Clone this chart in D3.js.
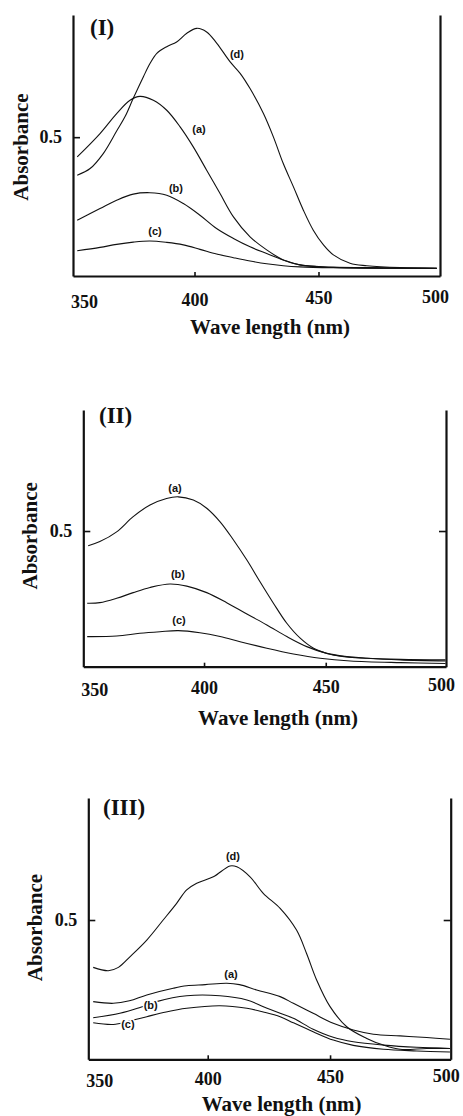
<!DOCTYPE html>
<html><head><meta charset="utf-8">
<script src="https://cdn.jsdelivr.net/npm/d3@7"></script>
<style>body{margin:0;background:#fff}svg{display:block}</style>
</head><body>
<svg id="c" width="463" height="1116"></svg>
<script>
// ---- data: [wavelength nm, absorbance] ----
const xTicks = [350, 400, 450, 500];
const yTicks = [0.5];

const I_a = [[352.7,0.429],[361.9,0.513],[368.6,0.585],[374,0.633],[378,0.647],[383.4,0.633],[388.8,0.597],[394.2,0.537],[399.5,0.465],[404.9,0.381],[410.3,0.297],[415.7,0.213],[422.4,0.141],[429.1,0.094],[435.8,0.058],[442.5,0.040],[449.3,0.034],[469.5,0.030],[497.7,0.028]];
const I_b = [[352.7,0.201],[361.9,0.243],[368.6,0.273],[375.3,0.295],[382,0.300],[388.8,0.291],[395.5,0.261],[402.2,0.219],[408.9,0.171],[415.7,0.135],[422.4,0.105],[429.1,0.081],[435.8,0.058],[442.5,0.040],[456,0.031],[497.7,0.028]];
const I_c = [[352.7,0.091],[361.9,0.103],[368.6,0.114],[375.3,0.122],[382,0.126],[388.8,0.121],[395.5,0.112],[402.2,0.096],[408.9,0.079],[415.7,0.066],[422.4,0.054],[429.1,0.044],[435.8,0.037],[442.5,0.033],[456,0.030],[497.7,0.027]];
const I_d = [[352.7,0.363],[357.9,0.387],[363.2,0.441],[368.6,0.522],[372,0.574],[375.3,0.640],[379.4,0.718],[382.1,0.766],[384.8,0.802],[388.8,0.826],[392.8,0.843],[396.9,0.874],[400.9,0.892],[404.9,0.879],[409,0.838],[414.3,0.772],[418.4,0.730],[422.4,0.675],[427.8,0.585],[431.8,0.501],[435.8,0.405],[439.9,0.321],[443.9,0.237],[447.9,0.165],[452,0.112],[456,0.076],[462.7,0.046],[469.5,0.037],[482.9,0.030],[497.7,0.028]];

const II_a = [[352.4,0.446],[357.2,0.461],[364.1,0.497],[370.9,0.553],[377.8,0.596],[384.6,0.620],[389.4,0.626],[395.6,0.614],[401.1,0.584],[406.6,0.534],[412.1,0.467],[417.6,0.393],[423,0.313],[428.5,0.234],[434,0.160],[439.5,0.105],[445,0.068],[450.5,0.049],[456,0.039],[467,0.031],[480.7,0.025],[499.2,0.021]];
const II_b = [[352,0.234],[357.2,0.236],[364.1,0.252],[370.9,0.273],[377.8,0.292],[386,0.305],[392.9,0.297],[401.1,0.273],[409.3,0.236],[417.6,0.194],[425.8,0.154],[434,0.111],[442.2,0.074],[450.5,0.049],[458.7,0.037],[467,0.031],[480.7,0.027],[499.2,0.025]];
const II_c = [[352,0.111],[364.1,0.113],[373.6,0.123],[381.9,0.129],[389.4,0.133],[398.3,0.125],[406.6,0.111],[414.8,0.092],[425.8,0.068],[436.7,0.047],[447.7,0.031],[460.1,0.021],[480.7,0.015],[499.2,0.012]];

const III_a = [[353.2,0.207],[361.4,0.201],[368,0.210],[375.1,0.231],[385.9,0.255],[391.4,0.264],[399,0.268],[407.8,0.273],[413,0.268],[420,0.249],[429.6,0.225],[435,0.201],[443.1,0.165],[451.3,0.129],[459.5,0.105],[467.7,0.090],[478.6,0.084],[489.5,0.078],[499,0.072]];
const III_b = [[353.2,0.149],[364.1,0.165],[372,0.185],[379.1,0.207],[391.4,0.228],[405,0.228],[416,0.213],[423,0.188],[429.6,0.165],[435,0.147],[443.1,0.108],[451.3,0.079],[459.5,0.063],[471.8,0.051],[485.4,0.043],[499,0.039]];
const III_c = [[353.2,0.131],[361.4,0.125],[368,0.137],[375.1,0.153],[383,0.170],[391.4,0.183],[405,0.192],[416,0.183],[422.7,0.170],[429.6,0.153],[435,0.131],[443.1,0.099],[451.3,0.069],[459.5,0.050],[471.8,0.036],[485.4,0.030],[499,0.026]];
const III_d = [[353.2,0.330],[359.4,0.318],[363.5,0.330],[368.2,0.368],[375.1,0.428],[381.8,0.500],[387.3,0.560],[391.4,0.608],[395.5,0.632],[402.3,0.655],[409.1,0.694],[411.9,0.691],[417.3,0.655],[422.7,0.596],[429.6,0.542],[436.3,0.464],[440.4,0.380],[444.5,0.285],[450,0.189],[456.8,0.117],[465,0.075],[471.8,0.051],[478.6,0.036],[489.5,0.039],[499,0.039]];

// curve label anchors [name, wavelength, absorbance]
const I_labels = [["d",417.1,0.80],["a",401.8,0.529],["b",392.5,0.317],["c",384.1,0.162]];
const II_labels = [["a",388.1,0.660],["b",389.3,0.342],["c",389.7,0.172]];
const III_labels = [["d",410.3,0.730],["a",409.5,0.306],["b",376.7,0.195],["c",367.4,0.127]];

const panelTitles = ["(I)", "(II)", "(III)"];
const yTitle = "Absorbance";
const xTitle = "Wave length (nm)";

// ---- layout ----
const panels = [
  {title:panelTitles[0], series:[I_a,I_b,I_c,I_d], labels:I_labels, halo:[],
   left:73, right:440, top:15, bottom:276, x0:351, x1:499, yMax:0.94, rightTick:false,
   titleX:90, titleY:34.5, absX:28, absY:147, tickY:307.7, tilt:1.7, xtX:270, xtY:334},
  {title:panelTitles[1], series:[II_a,II_b,II_c], labels:II_labels, halo:[],
   left:83.3, right:446, top:410, bottom:666.7, x0:350.4, x1:499.4, yMax:0.946, rightTick:true,
   titleX:99, titleY:423, absX:36.7, absY:535.8, tickY:696, tilt:1.7, xtX:278, xtY:725},
  {title:panelTitles[2], series:[III_a,III_b,III_c,III_d], labels:III_labels, halo:["b","c"],
   left:88.3, right:450.7, top:798, bottom:1059.3, x0:351.2, x1:499.3, yMax:0.938, rightTick:true,
   titleX:103, titleY:814.5, absX:41.7, absY:927.5, tickY:1087, tilt:1.8, xtX:281.7, xtY:1111}
];

const serif = "'Liberation Serif','Times New Roman',serif";
const sans = "'Liberation Sans',Arial,sans-serif";
const ink = "#111";
const svg = d3.select("#c");

panels.forEach(p => {
  const g = svg.append("g");
  const x = d3.scaleLinear().domain([p.x0, p.x1]).range([p.left, p.right]);
  const y = d3.scaleLinear().domain([0, p.yMax]).range([p.bottom, p.top]);

  // curves
  const line = d3.line().x(d => x(d[0])).y(d => y(d[1])).curve(d3.curveCatmullRom.alpha(0.5));
  g.selectAll("path.curve").data(p.series).join("path")
    .attr("class","curve").attr("d", line)
    .attr("fill","none").attr("stroke", ink).attr("stroke-width", 1.1);

  // left axis
  const la = g.append("g").attr("transform", `translate(${p.left},0)`)
    .call(d3.axisLeft(y).tickValues(yTicks).tickSizeInner(-7).tickSizeOuter(0)
      .tickPadding(11).tickFormat(d3.format(".1f")));
  // right axis
  const ra = g.append("g").attr("transform", `translate(${p.right},0)`)
    .call(d3.axisRight(y).tickValues(p.rightTick ? yTicks : []).tickSizeInner(-7).tickSizeOuter(0).tickFormat(""));
  // bottom axis
  const ba = g.append("g").attr("transform", `translate(0,${p.bottom})`)
    .call(d3.axisBottom(x).tickValues(xTicks).tickSizeInner(-4).tickSizeOuter(0).tickFormat(d3.format("d")));

  [la, ra, ba].forEach(a => {
    a.select(".domain").attr("stroke", ink).attr("stroke-width", 2.2);
    a.selectAll(".tick line").attr("stroke", ink).attr("stroke-width", 1.6);
    a.selectAll("text").attr("font-family", serif).attr("font-weight","bold")
      .attr("font-size", 18).attr("fill", ink);
  });
  const nT = xTicks.length;
  ba.selectAll(".tick").each(function(v, i) {
    const t = d3.select(this);
    if (i === 0 || i === nT - 1) t.select("line").remove();
    let dx = 0;
    if (i === 0) dx = p.left - x(v) + 11;
    if (i === nT - 1) dx = p.right - x(v) - 5;
    t.select("text").attr("x", dx).attr("dy", null)
      .attr("y", p.tickY - p.tilt * i - p.bottom);
  });

  // curve labels
  g.selectAll("text.lbl").data(p.labels).join("text")
    .attr("class","lbl")
    .attr("x", d => x(d[1])).attr("y", d => y(d[2]))
    .attr("text-anchor","middle").attr("dominant-baseline","central")
    .attr("font-family", sans).attr("font-weight","bold").attr("font-size", 11)
    .attr("fill", ink)
    .attr("stroke", d => p.halo.includes(d[0]) ? "#fff" : "none")
    .attr("stroke-width", 3).attr("paint-order","stroke")
    .text(d => `(${d[0]})`);

  // panel title
  g.append("text").attr("x", p.titleX).attr("y", p.titleY)
    .attr("font-family", serif).attr("font-weight","bold").attr("font-size", 23)
    .attr("fill", ink).text(p.title);
  // y title
  g.append("text").attr("transform", `translate(${p.absX},${p.absY}) rotate(-90)`)
    .attr("text-anchor","middle")
    .attr("font-family", serif).attr("font-weight","bold").attr("font-size", 21)
    .attr("fill", ink).text(yTitle);
  // x title
  g.append("text").attr("x", p.xtX).attr("y", p.xtY).attr("text-anchor","middle")
    .attr("font-family", serif).attr("font-weight","bold").attr("font-size", 21)
    .attr("fill", ink).text(xTitle);
});
</script>
</body></html>
